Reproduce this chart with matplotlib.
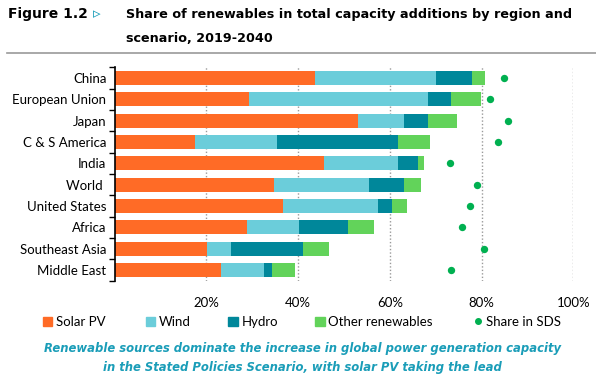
import matplotlib
matplotlib.use("Agg")
import matplotlib.pyplot as plt
from matplotlib.patches import Patch
from matplotlib.lines import Line2D
from matplotlib.ticker import FixedLocator, PercentFormatter

regions = ["China", "European Union", "Japan", "C & S America", "India",
           "World ", "United States", "Africa", "Southeast Asia", "Middle East"]
solar = [43.7, 29.3, 53.1, 17.4, 45.6, 34.7, 36.6, 28.8, 20.2, 23.2]
wind = [26.3, 38.9, 10.0, 17.9, 16.2, 20.7, 20.7, 11.4, 5.1, 9.4]
hydro = [7.9, 5.1, 5.2, 26.5, 4.3, 7.7, 3.1, 10.7, 15.7, 1.6]
other = [2.9, 6.5, 6.3, 7.0, 1.4, 3.7, 3.3, 5.6, 5.8, 5.1]
sds = [84.8, 81.7, 85.7, 83.5, 73.0, 79.0, 77.5, 75.7, 80.4, 73.2]

series = [("Solar PV", solar, "#FF6B26"),
          ("Wind", wind, "#6BCDDA"),
          ("Hydro", hydro, "#00879A"),
          ("Other renewables", other, "#62D35A")]
dot_color = "#00B050"
teal = "#1A9DB8"

plt.rcParams["font.family"] = ["Lato", "DejaVu Sans"]

fig = plt.figure(figsize=(5.96, 3.8), dpi=100)
ax = fig.add_axes([0.1925, 0.2613, 0.7697, 0.5616])

y = list(range(len(regions)))
left = [0.0] * len(regions)
for name, vals, col in series:
    ax.barh(y, vals, left=left, height=0.66, color=col, edgecolor="none", zorder=2)
    left = [a + b for a, b in zip(left, vals)]
ax.scatter(sds, y, s=28, color=dot_color, zorder=3, linewidths=0)

ax.set_xlim(0, 100)
ax.set_ylim(len(regions) - 0.5, -0.5)
ax.set_yticks(y)
ax.set_yticklabels(regions, fontsize=9.5)
ax.yaxis.set_minor_locator(FixedLocator([i - 0.5 for i in range(len(regions) + 1)]))
ax.tick_params(axis="y", which="major", length=0, pad=6)
ax.tick_params(axis="y", which="minor", length=4, width=1, color="black")

ax.set_xticks([20, 40, 60, 80, 100])
ax.xaxis.set_major_formatter(PercentFormatter(decimals=0))
ax.tick_params(axis="x", length=0, pad=12, labelsize=9.5)
ax.grid(axis="x", color="#9A9A9A", linestyle=(0, (1, 1.5)), linewidth=1, zorder=0)

for s in ["top", "right", "bottom"]:
    ax.spines[s].set_visible(False)
ax.spines["left"].set_linewidth(1.2)

# title
tfont = "DejaVu Sans"
fig.text(0.014, 0.963, "Figure 1.2", fontsize=10, fontweight="bold", va="center",
         family=tfont)
fig.text(0.156, 0.963, "\u25B9", fontsize=11, color=teal, va="center",
         family="DejaVu Sans", fontweight="bold")
fig.text(0.211, 0.963, "Share of renewables in total capacity additions by region and",
         fontsize=9.2, fontweight="bold", va="center", family=tfont)
fig.text(0.211, 0.900, "scenario, 2019-2040", fontsize=9.2, fontweight="bold",
         va="center", family=tfont)
fig.add_artist(Line2D([0.012, 1.0], [0.86, 0.86], color="#999999", linewidth=1.2))

# legend
items = [(Patch(color=c), n) for n, _, c in series]
items.append((Line2D([], [], marker="o", linestyle="none", color=dot_color, markersize=4),
              "Share in SDS"))
xs = [0.072, 0.245, 0.383, 0.529, 0.794]
for (h, lab), x in zip(items, xs):
    fig.legend(handles=[h], labels=[lab], loc="center left", bbox_to_anchor=(x, 0.153),
               frameon=False, fontsize=9.5, handlelength=0.7, handleheight=0.7,
               handletextpad=0.3, borderpad=0, borderaxespad=0)

# caption
cfont = "DejaVu Sans"
fig.text(0.507, 0.084, "Renewable sources dominate the increase in global power generation capacity",
         ha="center", va="center", fontsize=8.4, fontweight="bold", style="italic",
         color=teal, family=cfont)
fig.text(0.507, 0.034, "in the Stated Policies Scenario, with solar PV taking the lead",
         ha="center", va="center", fontsize=8.4, fontweight="bold", style="italic",
         color=teal, family=cfont)

fig.savefig("out.png", dpi=100)
